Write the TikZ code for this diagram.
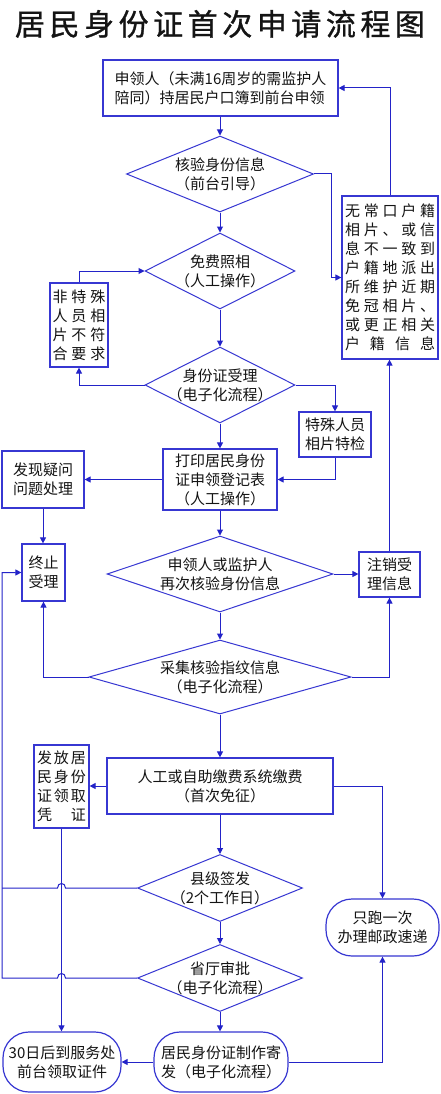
\documentclass[tikz,border=0pt]{standalone}
\usepackage{fontspec}
\setmainfont{Noto Sans CJK SC}
\newfontfamily\titlefont[FakeBold=1]{Noto Sans CJK SC}
\usetikzlibrary{shapes.geometric,arrows.meta,calc}
\definecolor{ln}{RGB}{35,35,200}
\definecolor{bd}{RGB}{55,55,210}
\definecolor{tx}{RGB}{20,20,20}
\newcommand\js[2]{\makebox[#1pt][s]{#2}}
\begin{document}
\begin{tikzpicture}[x=1pt,y=-1pt,
  txt/.style={text=tx,font=\fontsize{15}{19}\selectfont,align=center,inner sep=0pt},
  box/.style={txt,draw=bd,line width=1.2pt,fill=white,rectangle,minimum width=#1},
  rbx/.style={box=#1,rounded corners=26pt},
  dia/.style={draw=bd,line width=1pt,shape=diamond,inner sep=0pt,minimum width=#1},
  ln/.style={draw=ln,line width=1pt},
  arr/.style={ln,-{Triangle[length=6pt,width=6pt]}}
]
\useasboundingbox (0,0) rectangle (440,1094);
\fill[white] (0,0) rectangle (440,1094);
% title
\node[text=tx,inner sep=0pt,font=\titlefont\fontsize{30}{30}\selectfont] (title) at (220,24)
  {\js{410}{居\hfill 民\hfill 身\hfill 份\hfill 证\hfill 首\hfill 次\hfill 申\hfill 请\hfill 流\hfill 程\hfill 图}};
% boxes
\node[box=235pt,minimum height=56pt,align=left] (box1) at (220.5,88) {申领人（未满16周岁的需监护人\\陪同）持居民户口簿到前台申领};
\node[dia=187pt,minimum height=76pt] (d1) at (220,174) {};
\node[txt] (d1t) at (d1) {核验身份信息\\（前台引导）};
\node[box=96pt,minimum height=163pt,align=left] (rbox) at (390,277.5) {%
 \js{90}{无\hfill 常\hfill 口\hfill 户\hfill 籍}\\
 \js{90}{相\hfill 片\hfill 、\hfill 或\hfill 信}\\
 \js{90}{息\hfill 不\hfill 一\hfill 致\hfill 到}\\
 \js{90}{户\hfill 籍\hfill 地\hfill 派\hfill 出}\\
 \js{90}{所\hfill 维\hfill 护\hfill 近\hfill 期}\\
 \js{90}{免\hfill 冠\hfill 相\hfill 片\hfill 、}\\
 \js{90}{或\hfill 更\hfill 正\hfill 相\hfill 关}\\
 \js{90}{户\hfill 籍\hfill 信\hfill 息}};
\node[dia=150pt,minimum height=76pt] (d2) at (220,271) {};
\node[txt] (d2t) at (d2) {免费照相\\（人工操作）};
\node[box=58pt,minimum height=84pt,align=left] (ns) at (79,325) {%
 \js{53}{非\hfill 特\hfill 殊}\\
 \js{53}{人\hfill 员\hfill 相}\\
 \js{53}{片\hfill 不\hfill 符}\\
 \js{53}{合\hfill 要\hfill 求}};
\node[dia=150pt,minimum height=76pt] (d3) at (220,385) {};
\node[txt] (d3t) at (d3) {身份证受理\\（电子化流程）};
\node[box=72pt,minimum height=45pt] (sp) at (335,434.5) {特殊人员\\相片特检};
\node[box=114pt,minimum height=61pt] (print) at (220,479.5) {打印居民身份\\证申领登记表\\（人工操作）};
\node[box=82pt,minimum height=57pt] (found) at (43,479.5) {发现疑问\\问题处理};
\node[box=43pt,minimum height=57pt] (stop) at (43.5,572.5) {终止\\受理};
\node[dia=226pt,minimum height=76pt] (d4) at (220,574) {};
\node[txt] (d4t) at (d4) {申领人或监护人\\再次核验身份信息};
\node[box=61pt,minimum height=45pt] (cancel) at (389.5,574.5) {注销受\\理信息};
\node[dia=262pt,minimum height=74pt] (d5) at (220,677) {};
\node[txt] (d5t) at (d5) {采集核验指纹信息\\（电子化流程）};
\node[box=226pt,minimum height=56pt] (fee) at (220,786) {人工或自助缴费系统缴费\\（首次免征）};
\node[box=55pt,minimum height=83pt,align=left] (issue) at (61.5,786.5) {%
 \js{49}{发\hfill 放\hfill 居}\\
 \js{49}{民\hfill 身\hfill 份}\\
 \js{49}{证\hfill 领\hfill 取}\\
 \js{49}{凭\hfill 证}};
\node[dia=165pt,minimum height=67pt] (d6) at (220,888) {};
\node[txt] (d6t) at (d6) {县级签发\\（2个工作日）};
\node[dia=165pt,minimum height=67pt] (d7) at (220,978) {};
\node[txt] (d7t) at (d7) {省厅审批\\（电子化流程）};
\node[rbx=113pt,minimum height=57pt] (only) at (382.5,927.5) {只跑一次\\办理邮政速递};
\node[rbx=134pt,minimum height=60pt,align=left] (make) at (221,1062) {居民身份证制作寄\\发（电子化流程）};
\node[rbx=118pt,minimum height=60pt] (pickup) at (62,1062) {30日后到服务处\\前台领取证件};
\coordinate (lx) at (2,0);
% main chain
\draw[arr] (box1.south -| d1.north) -- (d1.north);
\draw[arr] (d1.south) -- (d2.north);
\draw[arr] (d2.south) -- (d3.north);
\draw[arr] (d3.south) -- (print.north);
\draw[arr] (print.south) -- (d4.north);
\draw[arr] (d4.south) -- (d5.north);
\draw[arr] (d5.south) -- (fee.north);
\draw[arr] (fee.south) -- (d6.north);
\draw[arr] (d6.south) -- (d7.north);
\draw[arr] (d7.south) -- (make.north -| d7.south);
% side branches
\draw[arr] (d1.east) -- ++(17,0) |- (rbox.west);
\draw[arr] (rbox.north) |- (box1.east);
\draw[arr] (ns.north) |- (d2.west);
\draw[arr] (d3.west) -| (ns.south);
\draw[arr] (d3.east) -| (sp.north);
\draw[arr] (sp.south) |- (print.east);
\draw[arr] (print.west) -- (found.east);
\draw[arr] (found.south) -- (stop.north -| found.south);
\draw[arr] (d4.east) -- (cancel.west |- d4.east);
\draw[arr] (cancel.north) -- (rbox.south -| cancel.north);
\draw[arr] (d5.west) -| (stop.south);
\draw[arr] (d5.east) -| (cancel.south);
\draw[arr] (fee.west) -- (issue.east |- fee.west);
\draw[arr] (fee.east) -| (only.north);
\draw[arr] (issue.south) -- (pickup.north -| issue.south);
\draw[ln] (d6.west) -- ($(issue.south |- d6.west)+(4,0)$)
  .. controls +(0,-6) and +(0,-6) .. ($(issue.south |- d6.west)+(-4,0)$) -- (lx |- d6.west);
\draw[arr] (d7.west) -- ($(issue.south |- d7.west)+(4,0)$)
  .. controls +(0,-6) and +(0,-6) .. ($(issue.south |- d7.west)+(-4,0)$) -- (lx |- d7.west) |- (stop.west);
\draw[arr] (make.west) -- (pickup.east);
\draw[arr] (make.east) -| (only.south);
\end{tikzpicture}
\end{document}
